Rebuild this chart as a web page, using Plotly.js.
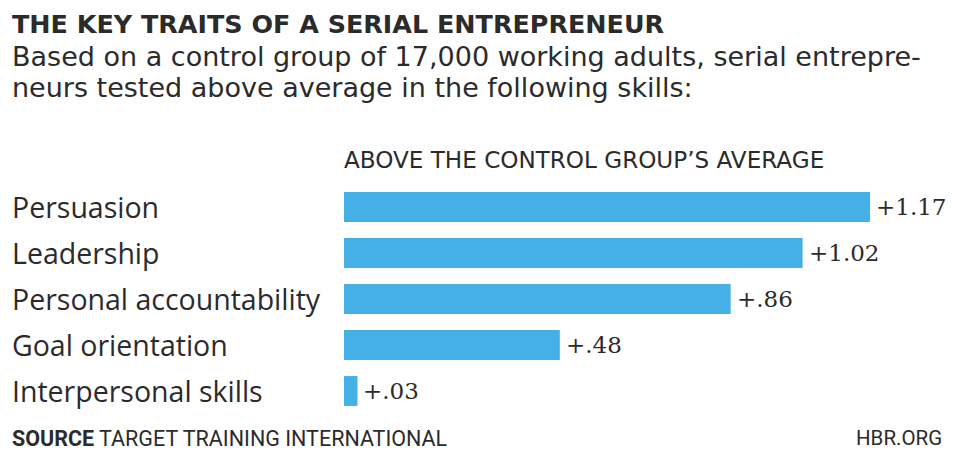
<!DOCTYPE html>
<html>
<head>
<meta charset="utf-8">
<script src="https://cdn.plot.ly/plotly-3.0.1.min.js"></script>
<style>html,body{margin:0;padding:0;background:#fff;}#chart{width:954px;height:452px;}</style>
</head>
<body>
<div id="chart"></div>
<script>
const categories = ['Persuasion', 'Leadership', 'Personal accountability', 'Goal orientation', 'Interpersonal skills'];
const values = [1.17, 1.02, 0.86, 0.48, 0.03];
const titleText = 'THE KEY TRAITS OF A SERIAL ENTREPRENEUR';
const subtitleLines = ['Based on a control group of 17,000 working adults, serial entrepre-', 'neurs tested above average in the following skills:'];
const headerText = 'ABOVE THE CONTROL GROUP\u2019S AVERAGE';
const sourceText = '<b>SOURCE</b> TARGET TRAINING INTERNATIONAL';
const creditText = 'HBR.ORG';

const W = 954, H = 452;
const M = {l: 344, r: 3, t: 184, b: 38};
const PW = W - M.l - M.r, PH = H - M.t - M.b;
const px = x => (x - M.l) / PW;
const py = y => (H - M.b - y) / PH;

const fmt = v => '+' + v.toFixed(2).replace(/^0/, '');
const dark = '#2b2b2b';

const annotations = [];
annotations.push({xref:'paper', yref:'paper', x:px(10), y:py(24), xanchor:'left', yanchor:'middle', showarrow:false,
  text:'<b>'+titleText+'</b>', font:{family:'DejaVu Sans', size:25.4, color:dark}});
subtitleLines.forEach((t,i) => annotations.push({xref:'paper', yref:'paper', x:px(10), y:py(56 + i*32), xanchor:'left', yanchor:'middle', showarrow:false,
  text:t, font:{family:'DejaVu Sans', size:27, color:dark}}));
annotations.push({xref:'paper', yref:'paper', x:px(342), y:py(160), xanchor:'left', yanchor:'middle', showarrow:false,
  text:headerText, font:{family:'DejaVu Sans', size:23.1, color:dark}});
categories.forEach((c,i) => {
  annotations.push({xref:'paper', yref:'y', x:px(10), y:c, xanchor:'left', yanchor:'middle', showarrow:false,
    text:c, font:{family:'Open Sans', size:28.5, color:dark}});
  annotations.push({xref:'x', yref:'y', x:values[i], y:c, xanchor:'left', yanchor:'middle', xshift:4, showarrow:false,
    text:fmt(values[i]), font:{family:'DejaVu Serif', size:23, color:dark}});
});
annotations.push({xref:'paper', yref:'paper', x:px(10), y:py(438), xanchor:'left', yanchor:'middle', showarrow:false,
  text:sourceText, font:{family:'Roboto', size:21.5, color:dark}});
annotations.push({xref:'paper', yref:'paper', x:px(944), y:py(438), xanchor:'right', yanchor:'middle', showarrow:false,
  text:creditText, font:{family:'Roboto', size:20.5, color:dark}});

const trace = {
  type:'bar', orientation:'h', x:values, y:categories,
  marker:{color:'#45b0e6', line:{width:0}}, hoverinfo:'skip'
};

const layout = {
  width:W, height:H, margin:M, paper_bgcolor:'#fff', plot_bgcolor:'#fff',
  showlegend:false, bargap:0.35,
  xaxis:{range:[0, PW/449.6], visible:false, fixedrange:true},
  yaxis:{autorange:'reversed', showticklabels:false, showgrid:false, zeroline:false, showline:false, ticks:'', fixedrange:true},
  annotations:annotations
};

Plotly.newPlot('chart', [trace], layout, {displayModeBar:false, staticPlot:true});
</script>
</body>
</html>
